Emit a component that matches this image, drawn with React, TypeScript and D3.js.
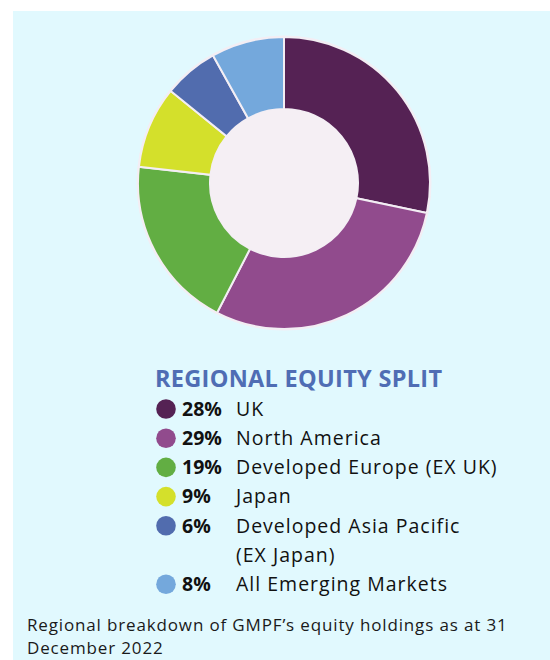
import React from "react";
import * as d3 from "d3";

const regions = ["UK", "North America", "Developed Europe (EX UK)", "Japan", "Developed Asia Pacific", "All Emerging Markets"];
const labelLines = [["UK"], ["North America"], ["Developed Europe (EX UK)"], ["Japan"], ["Developed Asia Pacific", "(EX Japan)"], ["All Emerging Markets"]];
const shares = [28, 29, 19, 9, 6, 8];
const colors = ["#552254", "#914b8d", "#62ae43", "#d4e02b", "#516cae", "#74a8dc"];

const W = 550, H = 660;
const FONT = "'Open Sans', sans-serif";

export default function App() {
  const cx = 284, cy = 183, outerR = 146, innerR = 74;
  const pie = d3.pie<number>().sort(null).value((d) => d);
  const arcs = pie(shares);
  const arc = d3.arc<d3.PieArcDatum<number>>().innerRadius(innerR).outerRadius(outerR);

  const rowY = d3.scaleLinear().domain([0, 1]).range([409, 438.2]);
  let line = 0;
  const rows = shares.map((s, i) => {
    const start = line;
    line += labelLines[i].length;
    return { s, i, start };
  });

  return (
    <svg width={W} height={H} style={{ position: "absolute", left: 0, top: 0 }}>
      <rect x={13} y={11} width={W - 13} height={H - 11} fill="#e1f9fe" />
      <g transform={`translate(${cx},${cy})`}>
        <circle r={outerR + 1.5} fill="#f3eef4" />
        {arcs.map((a, i) => (
          <path key={i} d={arc(a) || ""} fill={colors[i]} stroke="#f3eef4" strokeWidth={2} />
        ))}
        <circle r={innerR} fill="#f5eff4" />
      </g>
      <text x={155} y={387} fill="#4f6db4" fontFamily={FONT} fontWeight={700} fontSize={23.5} letterSpacing={0.3}>
        REGIONAL EQUITY SPLIT
      </text>
      {rows.map(({ s, i, start }) => (
        <g key={i}>
          <circle cx={166} cy={rowY(start)} r={9.8} fill={colors[i]} />
          <text x={182} y={rowY(start) + 6.8} fontFamily={FONT} fontWeight={700} fontSize={19.5} fill="#111">
            {s}%
          </text>
          {labelLines[i].map((l, k) => (
            <text key={k} x={236} y={rowY(start + k) + 6.8} fontFamily={FONT} fontSize={19.5} letterSpacing={1} fill="#111">
              {l}
            </text>
          ))}
        </g>
      ))}
      <text x={27} y={631} fontFamily={FONT} fontSize={17} letterSpacing={0.85} fill="#1a1a1a">
        Regional breakdown of GMPF’s equity holdings as at 31
      </text>
      <text x={27} y={654} fontFamily={FONT} fontSize={17} letterSpacing={0.85} fill="#1a1a1a">
        December 2022
      </text>
    </svg>
  );
}
